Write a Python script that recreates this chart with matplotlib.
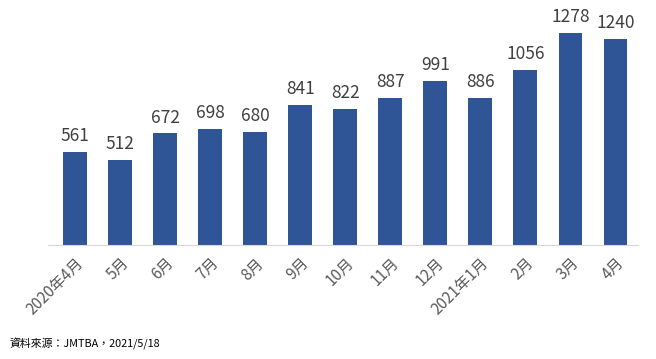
import matplotlib.pyplot as plt

plt.rcParams['font.family'] = ['Noto Sans CJK TC', 'DejaVu Sans']

months = ["2020年4月", "5月", "6月", "7月", "8月", "9月", "10月", "11月",
          "12月", "2021年1月", "2月", "3月", "4月"]
values = [561, 512, 672, 698, 680, 841, 822, 887, 991, 886, 1056, 1278, 1240]

fig = plt.figure(figsize=(6.56, 3.59), dpi=100)
ax = fig.add_axes([48/656, 1 - 245/359, 590/656, 235/359])

x = range(len(values))
bars = ax.bar(x, values, width=0.53, color="#2F5597")
for i, v in enumerate(values):
    ax.text(i, v + 42, str(v), ha="center", va="bottom", fontsize=12.5, color="#404040")

ax.set_xlim(-0.6, 12.5)
ax.set_ylim(0, 1416)
ax.set_yticks([])
ax.set_xticks(list(x))
ax.set_xticklabels(months, rotation=45, ha="right", rotation_mode="anchor",
                   fontsize=11, color="#595959")
ax.tick_params(axis="x", length=0, pad=7)
for s in ["top", "right", "left"]:
    ax.spines[s].set_visible(False)
ax.spines["bottom"].set_color("#D9D9D9")

fig.text(10/656, 1 - 344/359, "資料來源：JMTBA，2021/5/18", fontsize=7.8,
         color="#000000", va="center")

fig.savefig("out.png", dpi=100)
